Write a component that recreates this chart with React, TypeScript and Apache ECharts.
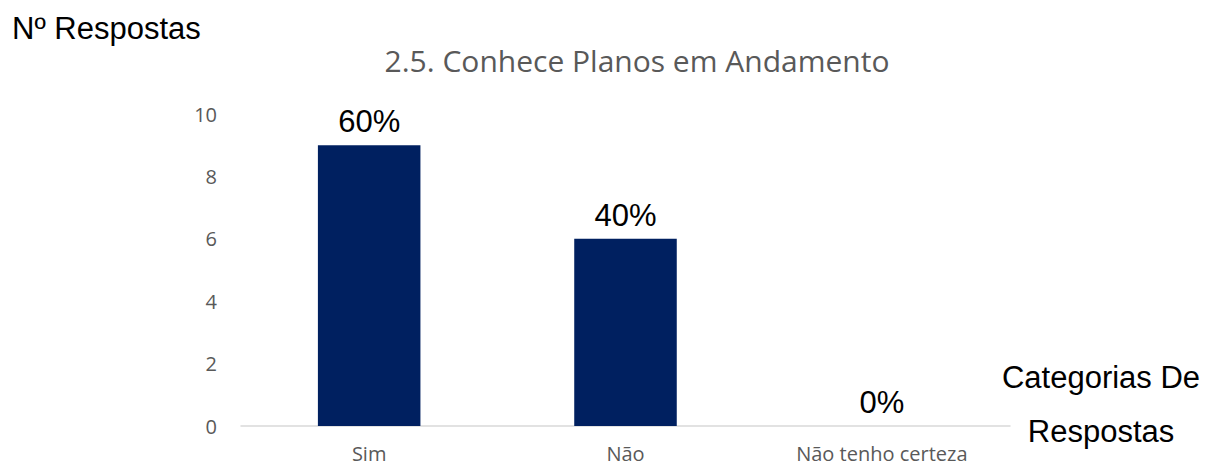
import React, { useEffect, useRef } from "react";
import * as echarts from "echarts";

const categories = ["Sim", "Não", "Não tenho certeza"];
const values = [9, 6, 0];
const percentLabels = ["60%", "40%", "0%"];
const yTicks = { min: 0, max: 10, interval: 2 };

export default function App() {
  const ref = useRef<HTMLDivElement>(null);
  useEffect(() => {
    if (!ref.current) return;
    const chart = echarts.init(ref.current, null, { renderer: "svg" });
    chart.setOption({
      animation: false,
      title: {
        text: "2.5. Conhece Planos em Andamento",
        left: 632,
        top: 40,
        textAlign: "center",
        textStyle: { fontFamily: "Open Sans", fontSize: 30, fontWeight: "normal", color: "#595959" },
      },
      grid: { left: 241, right: 204, top: 114, bottom: 40 },
      xAxis: {
        type: "category",
        data: categories,
        axisLine: { lineStyle: { color: "#D9D9D9", width: 1.5 } },
        axisTick: { show: false },
        axisLabel: { fontFamily: "Open Sans", fontSize: 20, lineHeight: 20, color: "#595959", margin: 17 },
      },
      yAxis: {
        type: "value",
        min: yTicks.min,
        max: yTicks.max,
        interval: yTicks.interval,
        splitLine: { show: false },
        axisLine: { show: false },
        axisTick: { show: false },
        axisLabel: { fontFamily: "Open Sans", fontSize: 20, color: "#595959", margin: 24 },
      },
      series: [
        {
          type: "bar",
          data: values,
          barWidth: "40%",
          itemStyle: { color: "#002060" },
          label: {
            show: true,
            position: "top",
            distance: 8,
            fontFamily: "Liberation Sans, Arial",
            fontSize: 31,
            color: "#000000",
            formatter: (p: any) => percentLabels[p.dataIndex],
          },
        },
      ],
      graphic: [
        {
          type: "text",
          x: 12,
          y: 28,
          style: {
            text: "Nº Respostas",
            font: "31px 'Liberation Sans', Arial",
            fill: "#000000",
            verticalAlign: "middle",
          },
        },
        {
          type: "text",
          x: 1101,
          y: 377,
          style: {
            text: "Categorias De",
            font: "31px 'Liberation Sans', Arial",
            fill: "#000000",
            align: "center",
            verticalAlign: "middle",
          },
        },
        {
          type: "text",
          x: 1101,
          y: 431,
          style: {
            text: "Respostas",
            font: "31px 'Liberation Sans', Arial",
            fill: "#000000",
            align: "center",
            verticalAlign: "middle",
          },
        },
      ],
    });
    return () => chart.dispose();
  }, []);
  return <div ref={ref} style={{ width: 1214, height: 466, position: "absolute", left: 0, top: 0 }} />;
}
